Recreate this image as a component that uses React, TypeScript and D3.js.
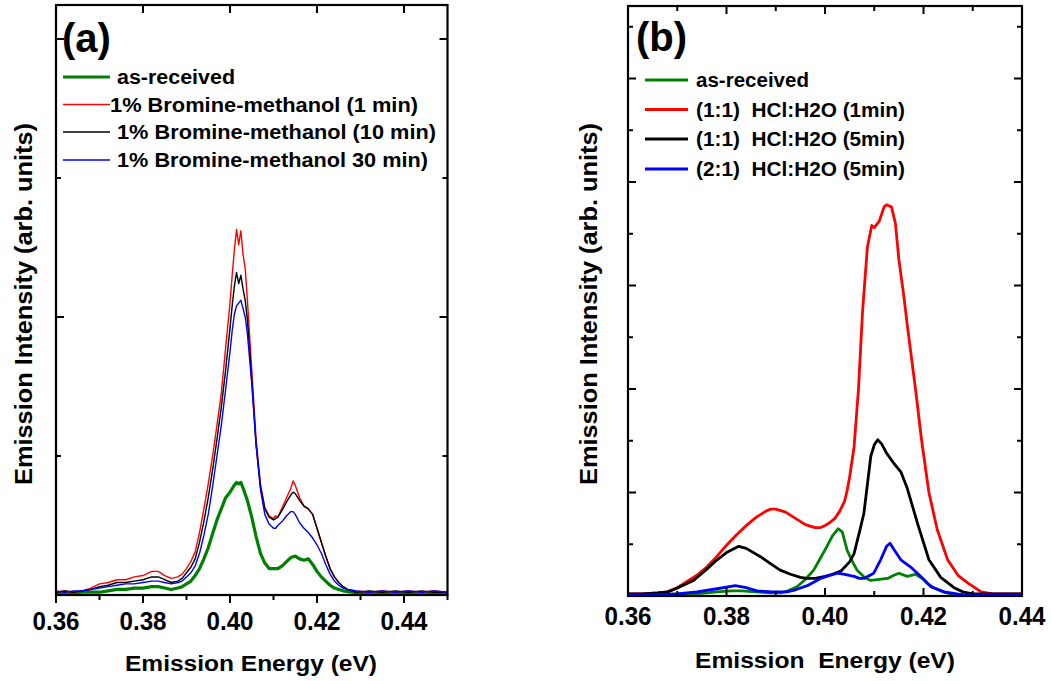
import React from 'react';
import * as d3 from 'd3';

type Pt = [number, number];

// ---------- Panel (a) data: [energy eV, intensity arb.] ----------
const aAsReceived: Pt[] = [
  [0.360,0.01],[0.362,0.02],[0.364,0.01],[0.366,0.02],[0.368,0.02],[0.370,0.02],[0.372,0.03],[0.374,0.04],
  [0.376,0.04],[0.378,0.05],[0.380,0.05],[0.382,0.06],[0.3835,0.06],[0.385,0.05],[0.3865,0.04],[0.388,0.05],
  [0.389,0.06],[0.390,0.08],[0.391,0.10],[0.392,0.14],[0.393,0.19],[0.394,0.26],[0.395,0.34],[0.396,0.44],
  [0.397,0.54],[0.398,0.62],[0.399,0.70],[0.400,0.74],[0.401,0.79],[0.4015,0.81],[0.402,0.80],[0.4025,0.81],
  [0.403,0.77],[0.404,0.68],[0.405,0.56],[0.406,0.42],[0.407,0.30],[0.408,0.23],[0.409,0.19],[0.410,0.19],
  [0.411,0.19],[0.412,0.21],[0.413,0.24],[0.414,0.27],[0.415,0.28],[0.416,0.26],[0.417,0.25],[0.418,0.26],
  [0.419,0.22],[0.420,0.17],[0.421,0.13],[0.422,0.10],[0.423,0.07],[0.424,0.05],[0.425,0.04],[0.426,0.03],
  [0.428,0.02],[0.431,0.01],[0.434,0.02],[0.437,0.01],[0.440,0.02],[0.443,0.01],[0.446,0.02],[0.450,0.01]
];
const aBr1: Pt[] = [
  [0.360,0.02],[0.362,0.03],[0.364,0.02],[0.366,0.03],[0.368,0.05],[0.370,0.08],[0.372,0.09],[0.374,0.11],
  [0.376,0.11],[0.378,0.13],[0.380,0.14],[0.382,0.17],[0.3835,0.17],[0.385,0.14],[0.3865,0.12],[0.388,0.13],
  [0.389,0.15],[0.390,0.19],[0.391,0.24],[0.392,0.31],[0.393,0.45],[0.394,0.62],[0.395,0.80],[0.396,1.00],
  [0.397,1.22],[0.398,1.45],[0.399,1.78],[0.400,2.10],[0.4005,2.30],[0.401,2.48],[0.4015,2.63],[0.402,2.52],
  [0.4025,2.62],[0.403,2.45],[0.4035,2.35],[0.404,2.12],[0.405,1.62],[0.406,1.12],[0.407,0.80],[0.408,0.63],
  [0.409,0.57],[0.410,0.55],[0.4105,0.57],[0.411,0.56],[0.412,0.63],[0.413,0.70],[0.414,0.77],[0.4145,0.82],
  [0.415,0.79],[0.416,0.70],[0.417,0.64],[0.418,0.62],[0.419,0.58],[0.420,0.48],[0.421,0.38],[0.422,0.28],
  [0.423,0.19],[0.424,0.13],[0.425,0.09],[0.426,0.06],[0.427,0.04],[0.429,0.03],[0.432,0.02],[0.435,0.03],
  [0.438,0.02],[0.441,0.03],[0.444,0.02],[0.447,0.03],[0.450,0.02]
];
const aBr10: Pt[] = [
  [0.360,0.02],[0.362,0.03],[0.364,0.02],[0.366,0.03],[0.368,0.04],[0.370,0.06],[0.372,0.07],[0.374,0.09],
  [0.376,0.09],[0.378,0.10],[0.380,0.11],[0.382,0.13],[0.3835,0.13],[0.385,0.11],[0.3865,0.09],[0.388,0.10],
  [0.389,0.12],[0.390,0.16],[0.391,0.20],[0.392,0.26],[0.393,0.38],[0.394,0.53],[0.395,0.70],[0.396,0.90],
  [0.397,1.12],[0.398,1.35],[0.399,1.62],[0.400,1.92],[0.4005,2.08],[0.401,2.22],[0.4015,2.32],[0.402,2.24],
  [0.4025,2.30],[0.403,2.20],[0.4035,2.12],[0.404,1.98],[0.405,1.55],[0.406,1.08],[0.407,0.78],[0.408,0.62],
  [0.409,0.56],[0.410,0.54],[0.4105,0.55],[0.411,0.56],[0.412,0.61],[0.413,0.67],[0.414,0.72],[0.4145,0.74],
  [0.415,0.73],[0.416,0.68],[0.417,0.64],[0.418,0.62],[0.419,0.58],[0.420,0.48],[0.421,0.38],[0.422,0.28],
  [0.423,0.19],[0.424,0.13],[0.425,0.09],[0.426,0.06],[0.427,0.04],[0.429,0.02],[0.432,0.03],[0.435,0.02],
  [0.438,0.03],[0.441,0.02],[0.444,0.03],[0.447,0.02],[0.450,0.02]
];
const aBr30: Pt[] = [
  [0.360,0.03],[0.362,0.02],[0.364,0.03],[0.366,0.03],[0.368,0.04],[0.370,0.05],[0.372,0.06],[0.374,0.07],
  [0.376,0.08],[0.378,0.08],[0.380,0.09],[0.382,0.10],[0.3835,0.10],[0.385,0.09],[0.3865,0.08],[0.388,0.09],
  [0.389,0.10],[0.390,0.13],[0.391,0.16],[0.392,0.21],[0.393,0.30],[0.394,0.43],[0.395,0.58],[0.396,0.78],
  [0.397,1.00],[0.398,1.22],[0.399,1.48],[0.400,1.75],[0.4005,1.90],[0.401,2.02],[0.4015,2.08],[0.402,2.10],
  [0.4025,2.12],[0.403,2.06],[0.4035,2.00],[0.404,1.88],[0.405,1.52],[0.406,1.08],[0.407,0.76],[0.408,0.58],
  [0.409,0.51],[0.410,0.48],[0.4105,0.48],[0.411,0.50],[0.412,0.53],[0.413,0.57],[0.414,0.60],[0.4145,0.60],
  [0.415,0.58],[0.416,0.52],[0.417,0.48],[0.418,0.45],[0.419,0.41],[0.420,0.36],[0.421,0.30],[0.422,0.22],
  [0.423,0.15],[0.424,0.10],[0.425,0.07],[0.426,0.05],[0.427,0.04],[0.429,0.03],[0.432,0.02],[0.435,0.03],
  [0.438,0.02],[0.441,0.03],[0.444,0.02],[0.447,0.03],[0.450,0.02]
];

// ---------- Panel (b) data ----------
const bAsReceived: Pt[] = [
  [0.360,0.01],[0.365,0.01],[0.370,0.02],[0.374,0.02],[0.378,0.04],[0.381,0.05],[0.383,0.05],[0.386,0.04],
  [0.389,0.03],[0.391,0.03],[0.3925,0.05],[0.3943,0.09],[0.396,0.16],[0.3977,0.25],[0.399,0.36],[0.4004,0.48],
  [0.4015,0.58],[0.4027,0.65],[0.4035,0.62],[0.4045,0.44],[0.4055,0.34],[0.4065,0.25],[0.408,0.18],[0.4093,0.15],
  [0.411,0.16],[0.4127,0.17],[0.414,0.20],[0.415,0.22],[0.4167,0.19],[0.4184,0.21],[0.420,0.16],[0.4208,0.12],
  [0.4221,0.08],[0.424,0.04],[0.4255,0.02],[0.428,0.01],[0.434,0.01],[0.440,0.01]
];
const bHcl11_1: Pt[] = [
  [0.360,0.02],[0.363,0.02],[0.366,0.03],[0.368,0.04],[0.370,0.08],[0.372,0.14],[0.374,0.20],[0.376,0.28],
  [0.378,0.38],[0.380,0.49],[0.382,0.59],[0.384,0.68],[0.386,0.76],[0.388,0.82],[0.389,0.84],[0.390,0.84],
  [0.392,0.81],[0.394,0.75],[0.396,0.69],[0.398,0.66],[0.399,0.66],[0.400,0.68],[0.401,0.71],[0.402,0.75],
  [0.403,0.82],[0.404,0.92],[0.4045,1.02],[0.405,1.15],[0.4059,1.44],[0.4068,2.00],[0.4076,2.73],[0.4086,3.37],
  [0.4095,3.58],[0.410,3.56],[0.411,3.62],[0.412,3.76],[0.4125,3.78],[0.4135,3.76],[0.4143,3.60],[0.415,3.25],
  [0.416,2.90],[0.4167,2.62],[0.4184,1.99],[0.4196,1.51],[0.4211,1.00],[0.4228,0.64],[0.4249,0.35],[0.427,0.20],
  [0.4289,0.13],[0.4317,0.04],[0.434,0.02],[0.437,0.02],[0.440,0.02]
];
const bHcl11_5: Pt[] = [
  [0.360,0.02],[0.363,0.02],[0.366,0.03],[0.368,0.04],[0.3692,0.06],[0.371,0.10],[0.3733,0.15],[0.376,0.26],
  [0.3781,0.35],[0.380,0.42],[0.3825,0.48],[0.384,0.46],[0.3869,0.38],[0.389,0.31],[0.3909,0.25],[0.393,0.21],
  [0.395,0.18],[0.3964,0.17],[0.398,0.17],[0.400,0.19],[0.4015,0.21],[0.4032,0.24],[0.405,0.33],[0.4059,0.41],
  [0.407,0.62],[0.4079,0.80],[0.4093,1.35],[0.410,1.46],[0.4107,1.51],[0.4115,1.47],[0.4125,1.38],[0.414,1.28],
  [0.4154,1.20],[0.4167,1.04],[0.4188,0.70],[0.4211,0.35],[0.4235,0.18],[0.4262,0.08],[0.428,0.04],[0.430,0.02],
  [0.435,0.02],[0.440,0.02]
];
const bHcl21_5: Pt[] = [
  [0.360,0.01],[0.365,0.01],[0.370,0.02],[0.374,0.04],[0.3781,0.07],[0.3818,0.10],[0.384,0.08],[0.3862,0.05],
  [0.389,0.04],[0.3923,0.04],[0.394,0.06],[0.3964,0.10],[0.3991,0.17],[0.401,0.20],[0.4025,0.22],[0.404,0.21],
  [0.4059,0.19],[0.407,0.17],[0.4079,0.17],[0.4099,0.22],[0.4113,0.35],[0.4125,0.48],[0.4132,0.51],[0.414,0.45],
  [0.4154,0.35],[0.4174,0.28],[0.4194,0.19],[0.4215,0.09],[0.4242,0.04],[0.428,0.01],[0.434,0.01],[0.440,0.01]
];

// ---------- labels & ticks ----------
const legendA = ['as-received', '1% Bromine-methanol (1 min)', '1% Bromine-methanol (10 min)', '1% Bromine-methanol 30 min)'];
const legendB = ['as-received', '(1:1)  HCl:H2O (1min)', '(1:1)  HCl:H2O (5min)', '(2:1)  HCl:H2O (5min)'];
const seriesColors = ['#008000', '#ff0000', '#000000', '#0000ff'];

const xMajorA = [0.36, 0.38, 0.40, 0.42, 0.44];
const xMinorA = [0.37, 0.39, 0.41, 0.43, 0.45];
const xMajorB = [0.36, 0.38, 0.40, 0.42, 0.44];
const xMinorB = [0.37, 0.39, 0.41, 0.43];
const yMajorA = [0, 2, 4];
const yMinorA = [1, 3];
const yMajorB = [0, 1, 2, 3, 4, 5];
const yMinorB = [0.5, 1.5, 2.5, 3.5, 4.5, 5.5];

const FONT = 'Arial, "Liberation Sans", sans-serif';

type PanelProps = {
  series: Pt[][];
  widths: number[];
  left: number; right: number; top: number; bottom: number;
  xDomain: [number, number];
  yPerUnit: number;
  xMajor: number[]; xMinor: number[];
  yMajor: number[]; yMinor: number[];
  bottomOut: boolean; topMinor: boolean;
  tickLabelBaseline: number;
  letter: string; letterX: number; letterY: number;
  legend: string[]; legendX0: number; legendX1: number; legendRows: number[];
  legendTextX: number[]; legendTextLen: number[]; legendWidths: number[];
  xTitle: string; xTitleX: number; xTitleY: number; xTitleLen: number;
  yTitleX: number; yTitleY: number;
};

function Panel(p: PanelProps) {
  const x = d3.scaleLinear().domain(p.xDomain).range([p.left, p.right]);
  const y = d3.scaleLinear().domain([0, (p.bottom - p.top) / p.yPerUnit]).range([p.bottom, p.top]);
  const line = d3.line<Pt>().x(d => x(d[0])).y(d => y(d[1]));
  const maj = 8, mnr = 5;
  const fmt = d3.format('.2f');
  return (
    <g>
      {p.series.map((s, i) => (
        <path key={i} d={line(s) || ''} fill="none" stroke={seriesColors[i]} strokeWidth={p.widths[i]} strokeLinejoin="round" />
      ))}
      <rect x={p.left} y={p.top} width={p.right - p.left} height={p.bottom - p.top} fill="none" stroke="#000" strokeWidth={2.2} />
      {p.xMajor.map(v => (
        <line key={'bM' + v} x1={x(v)} x2={x(v)} y1={p.bottom} y2={p.bottomOut ? p.bottom + maj : p.bottom - maj} stroke="#000" strokeWidth={2} />
      ))}
      {p.xMinor.map(v => (
        <line key={'bm' + v} x1={x(v)} x2={x(v)} y1={p.bottom} y2={p.bottomOut ? p.bottom + mnr : p.bottom - mnr} stroke="#000" strokeWidth={2} />
      ))}
      {p.xMajor.map(v => (
        <line key={'tM' + v} x1={x(v)} x2={x(v)} y1={p.top} y2={p.top + maj} stroke="#000" strokeWidth={2} />
      ))}
      {p.topMinor && p.xMinor.map(v => (
        <line key={'tm' + v} x1={x(v)} x2={x(v)} y1={p.top} y2={p.top + mnr} stroke="#000" strokeWidth={2} />
      ))}
      {p.yMajor.map(v => (
        <g key={'yM' + v}>
          <line x1={p.left} x2={p.left + maj} y1={y(v)} y2={y(v)} stroke="#000" strokeWidth={2} />
          <line x1={p.right} x2={p.right - maj} y1={y(v)} y2={y(v)} stroke="#000" strokeWidth={2} />
        </g>
      ))}
      {p.yMinor.map(v => (
        <g key={'ym' + v}>
          <line x1={p.left} x2={p.left + mnr} y1={y(v)} y2={y(v)} stroke="#000" strokeWidth={2} />
          <line x1={p.right} x2={p.right - mnr} y1={y(v)} y2={y(v)} stroke="#000" strokeWidth={2} />
        </g>
      ))}
      {p.xMajor.map(v => (
        <text key={'tl' + v} x={x(v)} y={p.tickLabelBaseline} textAnchor="middle" fontFamily={FONT} fontWeight="bold" fontSize={25}
          textLength={47} lengthAdjust="spacingAndGlyphs">{fmt(v)}</text>
      ))}
      <text x={p.letterX} y={p.letterY} fontFamily={FONT} fontWeight="bold" fontSize={40}>{p.letter}</text>
      {p.legend.map((t, i) => (
        <g key={'lg' + i}>
          <line x1={p.legendX0} x2={p.legendX1} y1={p.legendRows[i]} y2={p.legendRows[i]} stroke={seriesColors[i]} strokeWidth={p.legendWidths[i]} />
          <text x={p.legendTextX[i]} y={p.legendRows[i] + 7} fontFamily={FONT} fontWeight="bold" fontSize={19.5}
            textLength={p.legendTextLen[i]} lengthAdjust="spacingAndGlyphs" style={{ whiteSpace: 'pre' }}>{t}</text>
        </g>
      ))}
      <text x={p.xTitleX} y={p.xTitleY} textAnchor="middle" fontFamily={FONT} fontWeight="bold" fontSize={22.5}
        textLength={p.xTitleLen} lengthAdjust="spacingAndGlyphs" style={{ whiteSpace: 'pre' }}>{p.xTitle}</text>
      <text transform={`translate(${p.yTitleX},${p.yTitleY}) rotate(-90)`} textAnchor="middle" fontFamily={FONT} fontWeight="bold" fontSize={23}
        textLength={362} lengthAdjust="spacingAndGlyphs">Emission Intensity (arb. units)</text>
    </g>
  );
}

export default function App() {
  return (
    <svg width={1051} height={681} style={{ position: 'absolute', left: 0, top: 0, background: '#fff' }}>
      <rect x={0} y={0} width={1051} height={681} fill="#fff" />
      <Panel
        series={[aAsReceived, aBr1, aBr10, aBr30]}
        widths={[3.2, 1.4, 1.4, 1.4]}
        left={56} right={447.5} top={5} bottom={595}
        xDomain={[0.36, 0.45]} yPerUnit={139}
        xMajor={xMajorA} xMinor={xMinorA} yMajor={yMajorA} yMinor={yMinorA}
        bottomOut={true} topMinor={false}
        tickLabelBaseline={630}
        letter="(a)" letterX={62} letterY={52}
        legend={legendA} legendX0={63} legendX1={110} legendRows={[77, 104.5, 132, 160]}
        legendTextX={[117, 110, 117, 117]} legendTextLen={[118, 308, 319, 311]} legendWidths={[3, 1.3, 1.3, 1.3]}
        xTitle="Emission Energy (eV)" xTitleX={251} xTitleY={671} xTitleLen={252}
        yTitleX={32} yTitleY={304}
      />
      <Panel
        series={[bAsReceived, bHcl11_1, bHcl11_5, bHcl21_5]}
        widths={[2.8, 2.8, 2.8, 2.8]}
        left={628} right={1022} top={6} bottom={596}
        xDomain={[0.36, 0.44]} yPerUnit={103.5}
        xMajor={xMajorB} xMinor={xMinorB} yMajor={yMajorB} yMinor={yMinorB}
        bottomOut={false} topMinor={true}
        tickLabelBaseline={625}
        letter="(b)" letterX={636} letterY={51}
        legend={legendB} legendX0={645} legendX1={688} legendRows={[80, 109.5, 139, 169]}
        legendTextX={[696, 696, 696, 696]} legendTextLen={[113, 209, 209, 209]} legendWidths={[3, 3, 3, 3]}
        xTitle="Emission  Energy (eV)" xTitleX={825} xTitleY={668} xTitleLen={260}
        yTitleX={597} yTitleY={304}
      />
    </svg>
  );
}
